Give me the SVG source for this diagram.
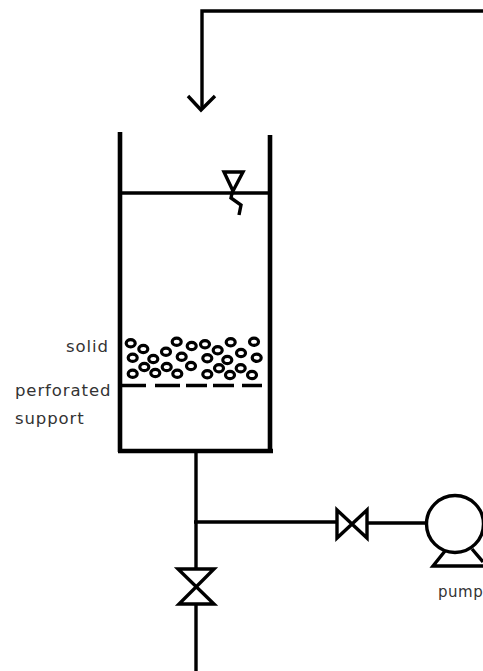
<svg xmlns="http://www.w3.org/2000/svg" width="483" height="671" viewBox="0 0 483 671">
<style>
.l{fill:none;stroke:#000;stroke-width:3.4;stroke-linejoin:miter}
.w{fill:none;stroke:#000;stroke-width:4.6}
.p{fill:none;stroke:#000;stroke-width:3.2}
.t{font-family:"DejaVu Sans",sans-serif;font-size:16.500px;fill:#333;letter-spacing:0.900px}
</style>
<rect width="483" height="671" fill="#fff"/>
<g id="connectors">
<path class="l" d="M483 11H202V109"/>
<path class="l" d="M188 96L201 110L215 96"/>
<path class="l" d="M196 452V568M196 604V671"/>
<path class="l" d="M194 522H337M367 523H427"/>
</g>
<g id="tank">
<path class="w" d="M120 132V452M270 135V452M118 451H273"/>
<path class="l" d="M120 193H270"/>
</g>
<g id="level">
<path class="l" d="M224 172H243L233 191Z"/>
<path class="l" d="M232.500 191L231 198L241 205L239 215"/>
</g>
<g id="solid">
<g class="p">
<ellipse cx="130.700" cy="343.300" rx="4.500" ry="3.600"/><ellipse cx="143.300" cy="349" rx="4.500" ry="3.600"/><ellipse cx="132.700" cy="357.700" rx="4.500" ry="3.600"/><ellipse cx="153.300" cy="359" rx="4.500" ry="3.600"/><ellipse cx="166" cy="351.700" rx="4.500" ry="3.600"/><ellipse cx="176.700" cy="341.700" rx="4.500" ry="3.600"/><ellipse cx="191.700" cy="346" rx="4.500" ry="3.600"/><ellipse cx="205" cy="344.300" rx="4.500" ry="3.600"/><ellipse cx="217.700" cy="350.300" rx="4.500" ry="3.600"/><ellipse cx="230.700" cy="342.300" rx="4.500" ry="3.600"/><ellipse cx="254" cy="341.700" rx="4.500" ry="3.600"/><ellipse cx="241" cy="353" rx="4.500" ry="3.600"/><ellipse cx="227.300" cy="360" rx="4.500" ry="3.600"/><ellipse cx="207.300" cy="358.300" rx="4.500" ry="3.600"/><ellipse cx="181.700" cy="356.700" rx="4.500" ry="3.600"/><ellipse cx="256.700" cy="357.700" rx="4.500" ry="3.600"/><ellipse cx="132.700" cy="373.700" rx="4.500" ry="3.600"/><ellipse cx="144.300" cy="367" rx="4.500" ry="3.600"/><ellipse cx="155.300" cy="373" rx="4.500" ry="3.600"/><ellipse cx="166.700" cy="367" rx="4.500" ry="3.600"/><ellipse cx="177.300" cy="373.700" rx="4.500" ry="3.600"/><ellipse cx="191" cy="366" rx="4.500" ry="3.600"/><ellipse cx="207.300" cy="374.300" rx="4.500" ry="3.600"/><ellipse cx="219" cy="368.300" rx="4.500" ry="3.600"/><ellipse cx="230" cy="375" rx="4.500" ry="3.600"/><ellipse cx="240.700" cy="368.300" rx="4.500" ry="3.600"/><ellipse cx="252" cy="375" rx="4.500" ry="3.600"/>
</g>
<text class="t" x="66" y="352">solid</text>
</g>
<g id="support">
<path class="l" d="M122 385.500H146M155 385.500H180M186 385.500H207M213 385.500H234M242 385.500H262"/>
<text class="t" x="15" y="396">perforated</text>
<text class="t" x="15" y="424">support</text>
</g>
<g id="valve-horizontal">
<path class="l" d="M337 510V538L367 510V538Z"/>
</g>
<g id="valve-vertical">
<path class="l" d="M178 569H214L179 604H214Z"/>
</g>
<g id="pump">
<circle class="l" cx="455" cy="524" r="28.500"/>
<path class="l" d="M445 551L433 566H483M472 549L483 562"/>
<text class="t" x="438" y="597" style="font-size:15px;letter-spacing:0.500px">pump</text>
</g>
</svg>
